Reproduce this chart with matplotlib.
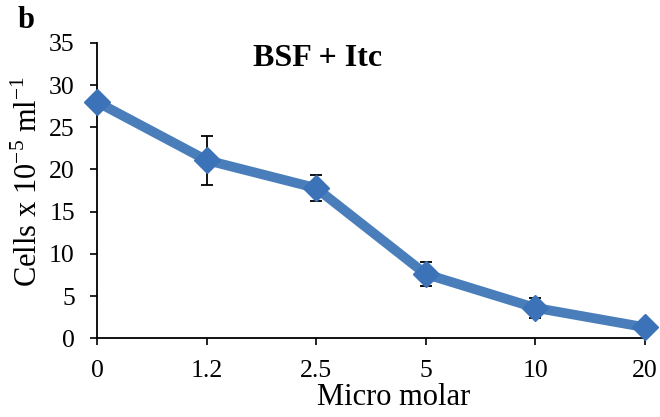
import matplotlib
matplotlib.use("Agg")
import matplotlib.pyplot as plt
import numpy as np

categories = ["0", "1.2", "2.5", "5", "10", "20"]
values = [28.0, 21.1, 17.8, 7.6, 3.6, 1.3]
errors = [0.5, 2.9, 1.5, 1.45, 1.2, 0.3]
y_ticks = [0, 5, 10, 15, 20, 25, 30, 35]

plt.rcParams['font.family'] = ['Liberation Serif', 'DejaVu Serif']
plt.rcParams['mathtext.fontset'] = 'custom'
plt.rcParams['mathtext.rm'] = 'Liberation Serif'

fig = plt.figure(figsize=(6.6, 4.17), dpi=100)
ax = fig.add_axes([0.147, 0.189, 0.83, 0.708])

x = np.arange(len(categories))
ax.errorbar(x, values, yerr=errors, fmt='none', ecolor='black', elinewidth=1.3,
            capsize=4, capthick=1.3, zorder=2)
ax.plot(x, values, color='#4A7EBB', linewidth=7, marker='D', markersize=13.5,
        markerfacecolor='#3C72B8', markeredgecolor='#3C72B8', zorder=3, clip_on=False)

ax.set_xlim(0, len(categories) - 1)
ax.set_ylim(0, 35)
ax.set_xticks(x)
ax.set_xticklabels(categories)
ax.set_yticks(y_ticks)
ax.tick_params(axis='both', labelsize=18.5, direction='out', length=5, width=1.2, colors='black')
ax.tick_params(axis='x', pad=11)
ax.tick_params(axis='y', pad=11)
for s in ['top', 'right']:
    ax.spines[s].set_visible(False)
for s in ['left', 'bottom']:
    ax.spines[s].set_linewidth(1.3)

ax.text(0.542, -0.227, 'Micro molar', transform=ax.transAxes, fontsize=22,
        ha='center', va='baseline')
ax.text(-0.1095, 0.532, r'Cells x 10$^{\mathrm{-5}}$ ml$^{\mathrm{-1}}$', transform=ax.transAxes,
        fontsize=22, rotation=90, rotation_mode='anchor', ha='center', va='baseline')
ax.text(0.403, 0.946, 'BSF + Itc', transform=ax.transAxes, fontsize=23,
        fontweight='bold', ha='center', va='center')
fig.text(0.039, 0.95, 'b', fontsize=22, fontweight='bold', ha='center', va='center')

fig.savefig('out.png', dpi=100)
